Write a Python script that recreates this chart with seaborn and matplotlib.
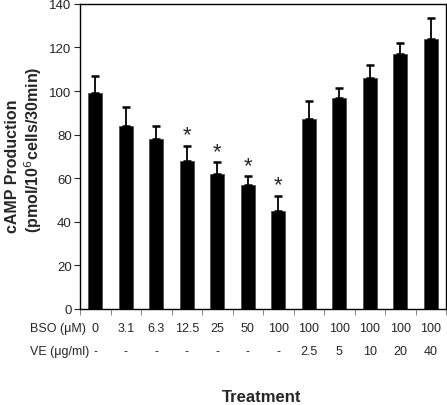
import numpy as np
import pandas as pd
import matplotlib
matplotlib.use("Agg")
import matplotlib.pyplot as plt
import matplotlib.transforms as mtransforms
import seaborn as sns

bso_labels = ["0", "3.1", "6.3", "12.5", "25", "50", "100", "100", "100", "100", "100", "100"]
ve_labels = ["-", "-", "-", "-", "-", "-", "-", "2.5", "5", "10", "20", "40"]
camp = [99, 84, 78, 68, 62, 57, 45, 87, 97, 106, 117, 124]
camp_err = [8, 8.5, 6, 7, 5.5, 4, 7, 8.5, 4.5, 6, 5, 9.5]
significant = [False, False, False, True, True, True, True, False, False, False, False, False]

sns.set_style("white")
plt.rcParams["font.family"] = ["Liberation Sans", "DejaVu Sans"]

df = pd.DataFrame({"pos": range(len(camp)), "camp": camp})

fig = plt.figure(figsize=(4.47, 4.06), dpi=100)
ax = fig.add_axes([0.179, 0.2365, 0.819, 0.7515])

sns.barplot(data=df, x="pos", y="camp", color="black", width=0.46,
            edgecolor="#444444", linewidth=0.5, ax=ax, errorbar=None)
x = np.arange(len(camp))
ax.errorbar(x, camp, yerr=[np.zeros(len(camp)), camp_err], fmt="none",
            ecolor="black", elinewidth=1.3, capsize=3, capthick=1.8)

# significance marks sit just above the error caps
for xi, v, e, s in zip(x, camp, camp_err, significant):
    if s:
        ax.text(xi, v + e, "*", ha="center", va="bottom", fontsize=16)

ax.set_xlim(-0.5, len(camp) - 0.5)
ax.set_ylim(0, 140)
ax.set_yticks(range(0, 141, 20))
ax.tick_params(axis="y", labelsize=9.5, length=4, width=0.8, direction="out", left=True, pad=2)
ax.set_xticks(np.arange(-0.5, len(camp), 1.0))
ax.set_xticklabels([])
ax.tick_params(axis="x", length=4, width=0.6, color="#777777", direction="out", bottom=True)
ax.set_xlabel("")
ax.set_ylabel("")
for sp in ax.spines.values():
    sp.set_color("black")
    sp.set_linewidth(1.0)
    sp.set_visible(True)

trans = mtransforms.blended_transform_factory(ax.transData, fig.transFigure)
for xi, b, v in zip(x, bso_labels, ve_labels):
    ax.text(xi, 1 - 329 / 406, b, transform=trans, ha="center", va="center", fontsize=9)
    ax.text(xi, 1 - 352 / 406, v, transform=trans, ha="center", va="center", fontsize=9)

fig.text(30 / 447, 1 - 329 / 406, "BSO (\u03bcM)", ha="left", va="center", fontsize=9)
fig.text(30 / 447, 1 - 352 / 406, "VE (\u03bcg/ml)", ha="left", va="center", fontsize=9)

fig.text(262 / 447, 1 - 398 / 406, "Treatment", ha="center", va="center",
         fontsize=12, fontweight="bold")
fig.text(13 / 447, 1 - 233 / 406, "cAMP Production", rotation=90, ha="center",
         va="bottom", fontsize=11.5, fontweight="bold")
fig.text(33 / 447, 1 - 233 / 406, "(pmol/10$^{6}$cells/30min)", rotation=90,
         ha="center", va="bottom", fontsize=11.5, fontweight="bold")

fig.savefig("out.png", dpi=100)
